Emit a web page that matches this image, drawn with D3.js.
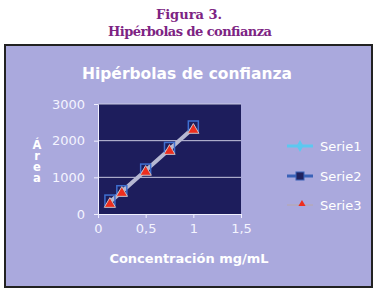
<!DOCTYPE html>
<html>
<head>
<meta charset="utf-8">
<script src="https://cdn.jsdelivr.net/npm/d3@7"></script>
<style>
  body { margin: 0; background: #fff; }
  svg { display: block; }
</style>
</head>
<body>
<svg id="chart"></svg>
<script>
// values
const conc = [0.125, 0.25, 0.5, 0.75, 1.0];
const serie1 = [330, 610, 1185, 1765, 2345];
const serie2 = [380, 635, 1225, 1815, 2400];
const serie3 = [270, 570, 1145, 1715, 2290];
const yTicks = [0, 1000, 2000, 3000];
const xTicks = [0, 0.5, 1, 1.5];
const seriesNames = ['Serie1', 'Serie2', 'Serie3'];

const W = 377, H = 291;
const svg = d3.select('#chart').attr('width', W).attr('height', H);
const font = 'DejaVu Sans, Verdana, sans-serif';

// caption above chart
svg.append('text')
  .attr('x', 189).attr('y', 19)
  .attr('text-anchor', 'middle')
  .attr('fill', '#7d2383')
  .attr('font-family', 'DejaVu Serif, serif')
  .attr('font-weight', 'bold')
  .attr('font-size', '13px')
  .text('Figura 3.');
svg.append('text')
  .attr('x', 190).attr('y', 36)
  .attr('text-anchor', 'middle')
  .attr('fill', '#7d2383')
  .attr('font-family', 'DejaVu Serif, serif')
  .attr('font-weight', 'bold')
  .attr('font-size', '13px')
  .attr('textLength', 164)
  .text('Hipérbolas de confianza');

// chart frame
svg.append('rect')
  .attr('x', 5).attr('y', 45)
  .attr('width', 367).attr('height', 242)
  .attr('fill', '#aaa9dd')
  .attr('stroke', '#222')
  .attr('stroke-width', 2);

svg.append('text')
  .attr('x', 187).attr('y', 79)
  .attr('text-anchor', 'middle')
  .attr('fill', '#fff')
  .attr('font-family', font)
  .attr('font-weight', 'bold')
  .attr('font-size', '15.5px')
  .text('Hipérbolas de confianza');

const x = d3.scaleLinear().domain([0, 1.5]).range([98, 241]);
const y = d3.scaleLinear().domain([0, 3000]).range([214, 104]);

// plot area
svg.append('rect')
  .attr('x', x(0)).attr('y', y(3000))
  .attr('width', x(1.5) - x(0)).attr('height', y(0) - y(3000))
  .attr('fill', '#1d1d5c');

// gridlines
svg.append('g').selectAll('line')
  .data(yTicks.filter(d => d > 0))
  .enter().append('line')
  .attr('x1', x(0)).attr('x2', x(1.5))
  .attr('y1', d => y(d)).attr('y2', d => y(d))
  .attr('stroke', '#c8c8e0')
  .attr('stroke-width', 1);

// axes
const yAxis = svg.append('g')
  .attr('transform', `translate(${x(0)},0)`)
  .call(d3.axisLeft(y).tickValues(yTicks).tickSize(4).tickPadding(9).tickFormat(d3.format('d')));
const xAxis = svg.append('g')
  .attr('transform', `translate(0,${y(0)})`)
  .call(d3.axisBottom(x).tickValues(xTicks).tickSize(4).tickPadding(6)
    .tickFormat(d => String(d).replace('.', ',')));
[yAxis, xAxis].forEach(a => {
  a.select('.domain').attr('stroke', '#f0f0ff');
  a.selectAll('.tick line').attr('stroke', '#f0f0ff');
  a.selectAll('text')
    .attr('fill', '#f4f4ff')
    .attr('font-family', font)
    .attr('font-size', '13px');
});

// axis titles: "Área" stacked upright, one text
svg.append('text')
  .attr('x', 37).attr('y', 160)
  .attr('text-anchor', 'middle')
  .attr('fill', '#fff')
  .attr('font-family', font)
  .attr('font-weight', 'bold')
  .attr('font-size', '11.5px')
  .style('writing-mode', 'vertical-rl')
  .style('text-orientation', 'upright')
  .style('letter-spacing', '-3px')
  .text('Área');

svg.append('text')
  .attr('x', 189).attr('y', 263)
  .attr('text-anchor', 'middle')
  .attr('fill', '#fff')
  .attr('font-family', font)
  .attr('font-weight', 'bold')
  .attr('font-size', '13px')
  .text('Concentración mg/mL');

// series
const pts = (vals) => conc.map((c, i) => [x(c), y(vals[i])]);
const line = d3.line();

svg.append('path')
  .attr('d', line(pts(serie1)))
  .attr('fill', 'none')
  .attr('stroke', '#b6b8d2')
  .attr('stroke-width', 4);

svg.append('g').selectAll('rect')
  .data(pts(serie2))
  .enter().append('rect')
  .attr('x', d => d[0] - 5).attr('y', d => d[1] - 5)
  .attr('width', 10).attr('height', 10)
  .attr('fill', 'none')
  .attr('stroke', '#3f6fd0')
  .attr('stroke-width', 1.5);

const tri = d3.symbol().type(d3.symbolTriangle).size(55);
svg.append('g').selectAll('path')
  .data(pts(serie3))
  .enter().append('path')
  .attr('transform', d => `translate(${d[0]},${d[1]})`)
  .attr('d', tri)
  .attr('fill', '#ee2e1e')
  .attr('stroke', '#c8c0c8')
  .attr('stroke-width', 1);

// legend
const legendY = [146, 176, 205];
const lg = svg.append('g');
lg.append('line').attr('x1', 287).attr('x2', 313).attr('y1', legendY[0]).attr('y2', legendY[0])
  .attr('stroke', '#5cc8f0').attr('stroke-width', 3);
lg.append('path').attr('transform', `translate(300,${legendY[0]})`)
  .attr('d', d3.symbol().type(d3.symbolDiamond).size(40)).attr('fill', '#5cc8f0');
lg.append('line').attr('x1', 287).attr('x2', 313).attr('y1', legendY[1]).attr('y2', legendY[1])
  .attr('stroke', '#3a62b8').attr('stroke-width', 3);
lg.append('rect').attr('x', 296).attr('y', legendY[1] - 4).attr('width', 8).attr('height', 8)
  .attr('fill', '#22225e').attr('stroke', '#3a62b8').attr('stroke-width', 1);
lg.append('line').attr('x1', 287).attr('x2', 313).attr('y1', legendY[2]).attr('y2', legendY[2])
  .attr('stroke', '#b8a8a8').attr('stroke-width', 1);
lg.append('path').attr('transform', `translate(302,${legendY[2] - 1})`)
  .attr('d', d3.symbol().type(d3.symbolTriangle).size(22)).attr('fill', '#ee2e1e');
lg.selectAll('text.lbl')
  .data(seriesNames)
  .enter().append('text')
  .attr('class', 'lbl')
  .attr('x', 320)
  .attr('y', (d, i) => legendY[i] + 5)
  .attr('fill', '#fff')
  .attr('font-family', font)
  .attr('font-size', '13px')
  .text(d => d);
</script>
</body>
</html>
